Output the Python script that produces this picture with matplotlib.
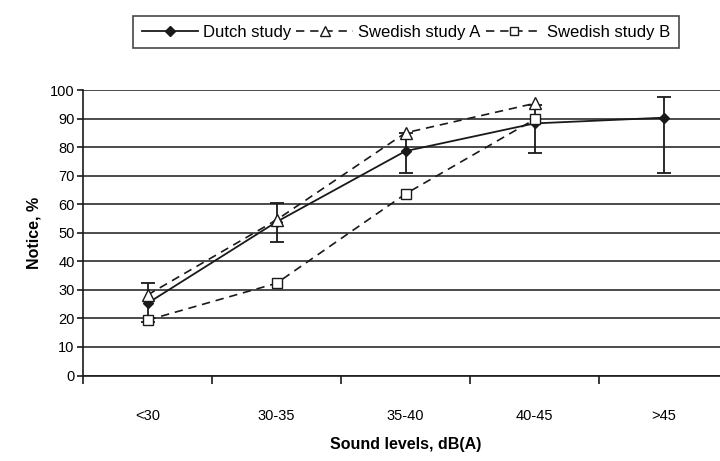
import matplotlib
matplotlib.use("Agg")
import matplotlib.pyplot as plt
from matplotlib.lines import Line2D
import numpy as np

plt.rcParams['font.family'] = ['Liberation Sans Narrow', 'Liberation Sans', 'DejaVu Sans']

# Data
categories = ['<30', '30-35', '35-40', '40-45', '>45']
dutch = [25.3, 53.8, 78.6, 88.3, 90.3]
dutch_err_low = [6.5, 7.0, 7.6, 10.3, 19.3]
dutch_err_high = [7.0, 6.7, 6.5, 6.5, 7.4]
swedish_a = [28.2, 54.5, 85.0, 95.3]
swedish_b = [19.4, 32.3, 63.6, 89.7]

x = np.arange(len(categories))

fig = plt.figure(figsize=(7.2, 4.61), dpi=100)
ax = fig.add_axes([83 / 720, 85.5 / 461, 645 / 720, 285.5 / 461])

ink = '#1a1a1a'
dash = (0, (5, 3.5))
ax.errorbar(x, dutch, yerr=[dutch_err_low, dutch_err_high], color=ink, lw=1.3,
            marker='D', ms=5, mfc=ink, mec=ink, capsize=5, elinewidth=1.3,
            capthick=1.3, zorder=3)
ax.plot(x[:4], swedish_a, color=ink, lw=1.2, ls=dash, marker='^', ms=8,
        mfc='white', mec=ink, mew=1.0, zorder=4)
ax.plot(x[:4], swedish_b, color=ink, lw=1.2, ls=dash, marker='s', ms=7,
        mfc='white', mec=ink, mew=1.0, zorder=4)

ax.set_ylim(0, 100)
ax.set_xlim(-0.5, 4.5)
ax.set_yticks(np.arange(0, 101, 10))
ax.yaxis.grid(True, color=ink, lw=1.1)
ax.set_axisbelow(True)

ax.set_xticks(np.arange(-0.5, 4.6, 1.0))
ax.set_xticklabels([])
ax.set_xticks(x, minor=True)
ax.set_xticklabels(categories, minor=True)
ax.tick_params(axis='x', which='major', length=6, width=1.2, color=ink)
ax.tick_params(axis='x', which='minor', length=0, pad=24, labelsize=10.5)
ax.tick_params(axis='y', length=4, width=1.2, color=ink, labelsize=10.5, pad=2)

for side in ['top', 'right']:
    ax.spines[side].set_visible(False)
for side in ['left', 'bottom']:
    ax.spines[side].set_color(ink)
    ax.spines[side].set_linewidth(1.2)

ax.set_ylabel('Notice, %', fontsize=11.5, fontweight='bold', labelpad=6)
ax.set_xlabel('Sound levels, dB(A)', fontsize=11.5, fontweight='bold', labelpad=10)

handles = [
    Line2D([], [], color=ink, lw=1.3, marker='D', ms=5, mfc=ink, mec=ink),
    Line2D([], [], color=ink, lw=1.2, ls=dash, marker='^', ms=7, mfc='white', mec=ink),
    Line2D([], [], color=ink, lw=1.2, ls=dash, marker='s', ms=6, mfc='white', mec=ink),
]
labels = ['Dutch study', 'Swedish study A', 'Swedish study B']
leg = fig.legend(handles, labels, loc='center', bbox_to_anchor=(406 / 720, 1 - 32 / 461),
                 ncol=3, fontsize=12, frameon=True, fancybox=False, edgecolor=ink,
                 handlelength=3.4, columnspacing=0.3, handletextpad=0.3,
                 borderpad=0.5)
leg.get_frame().set_linewidth(1.2)

fig.savefig('out.png', dpi=100)
